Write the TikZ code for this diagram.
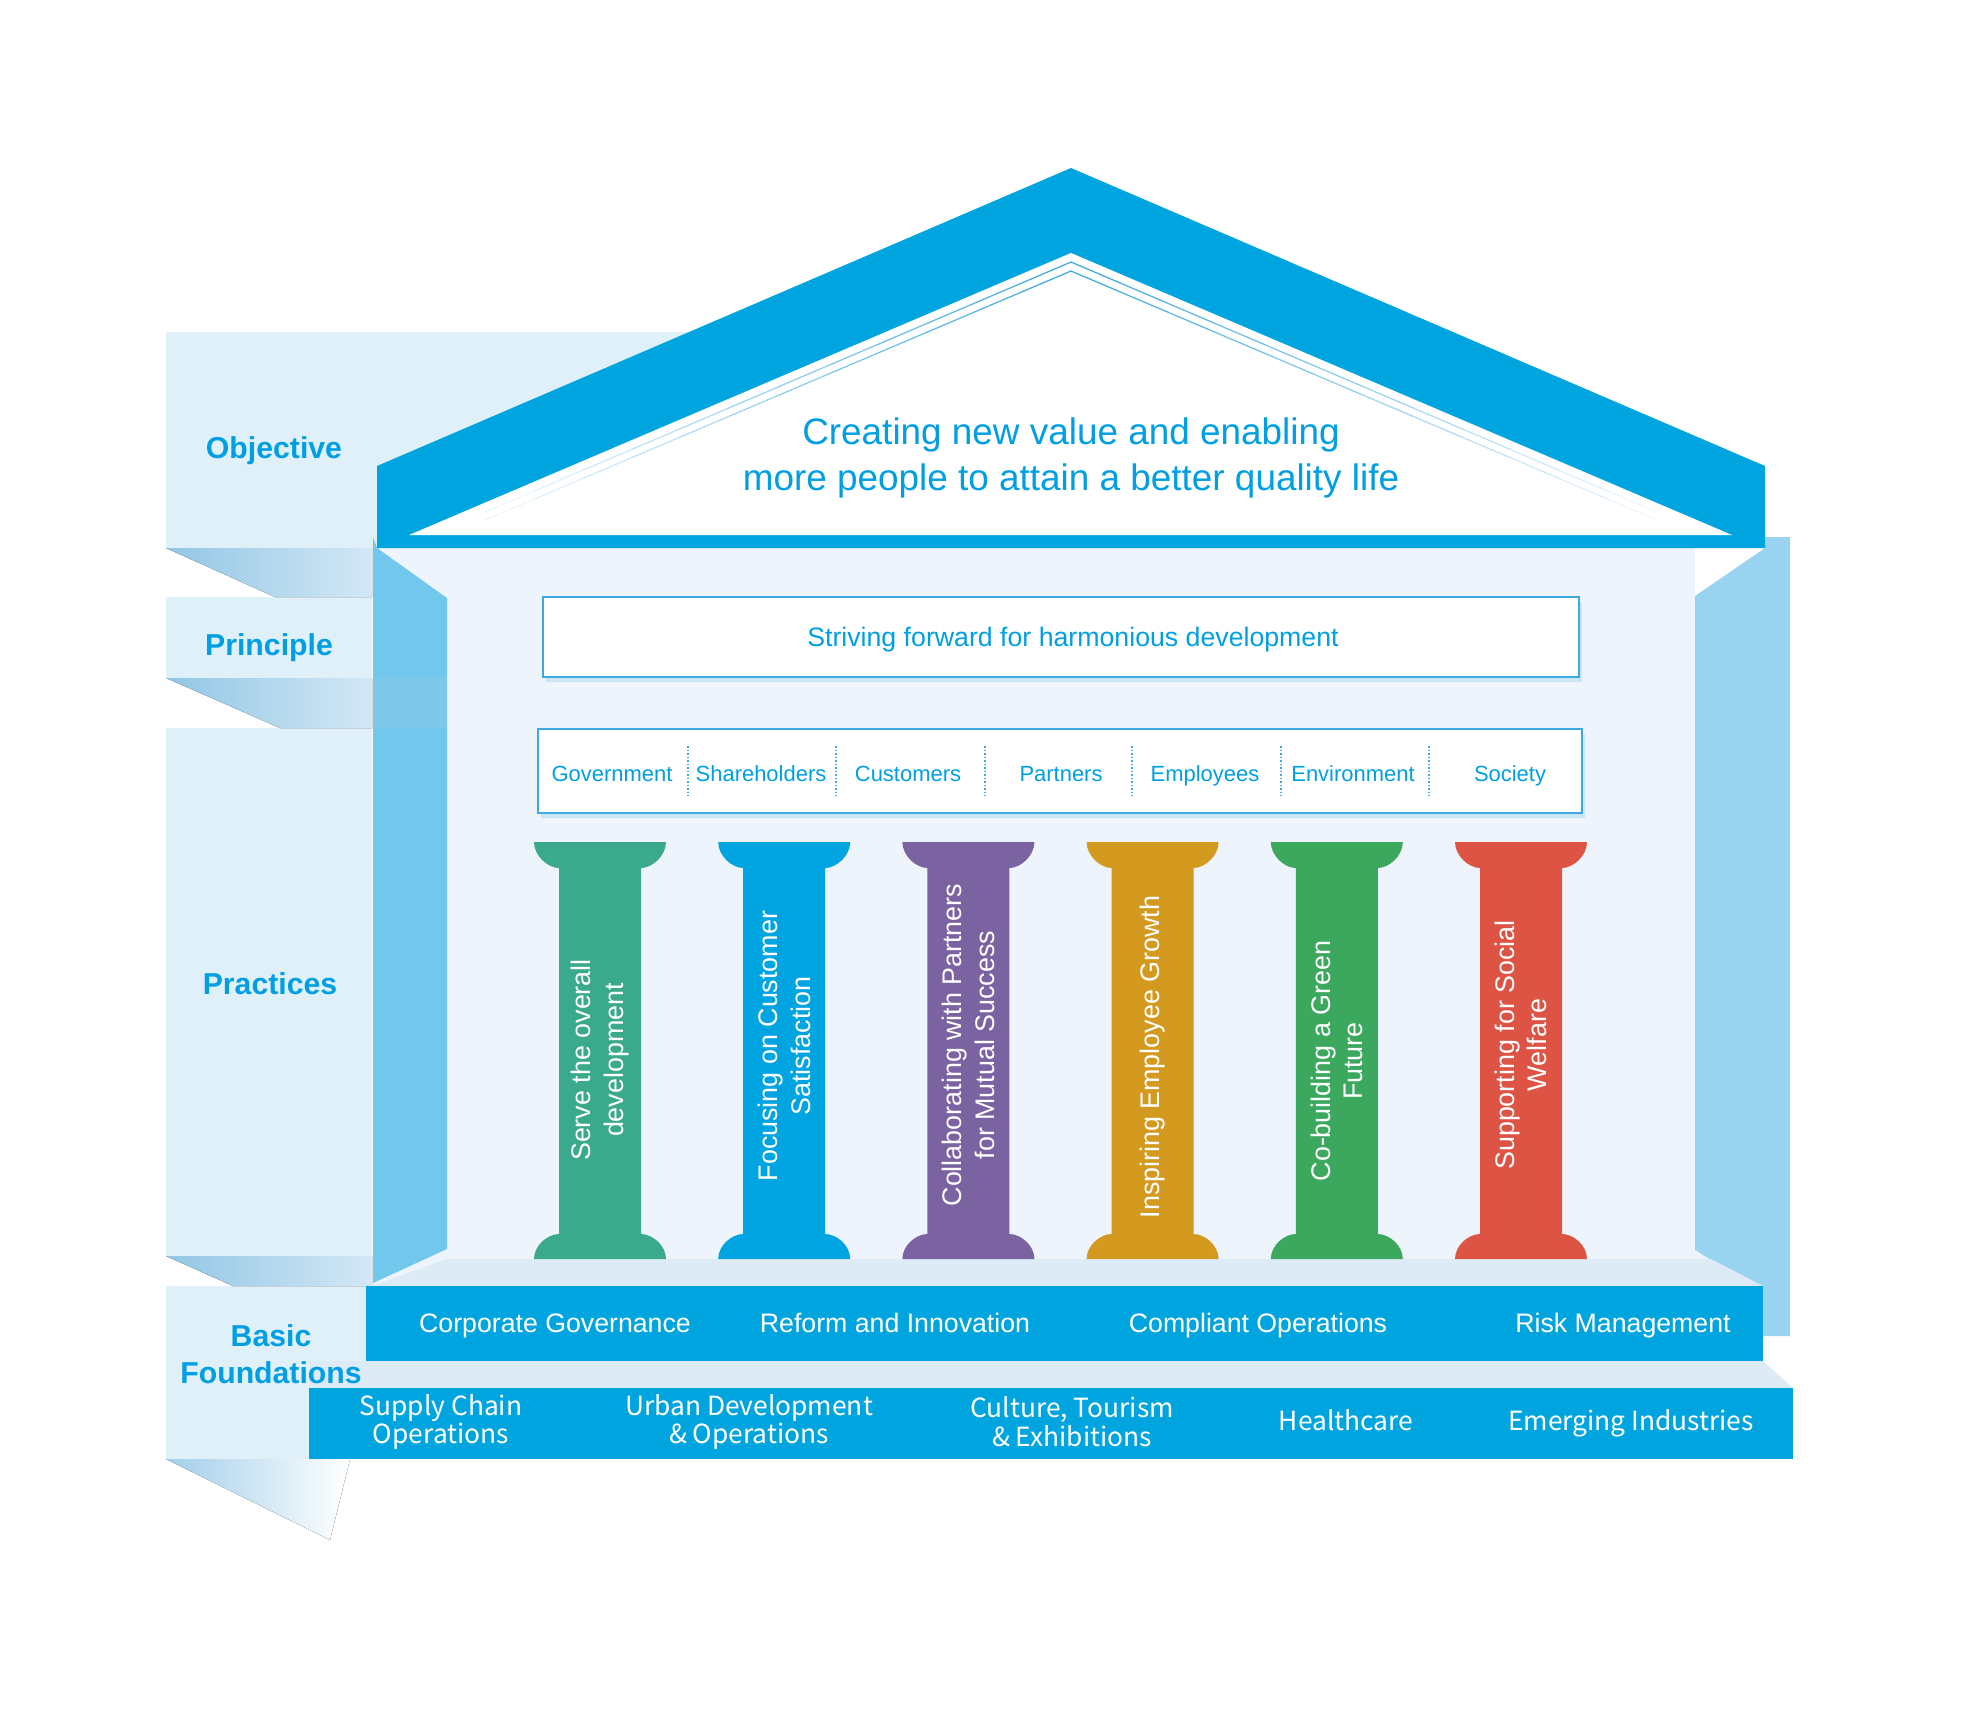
\documentclass[tikz,border=0pt]{standalone}
\usepackage{fontspec}
\setmainfont{Liberation Sans}
\newfontfamily\srcfont{Noto Sans CJK SC}
\usetikzlibrary{calc,shadows}
\definecolor{mainblue}{HTML}{00A5E0}
\definecolor{textblue}{HTML}{009FE3}
\definecolor{panel}{HTML}{E0F0F8}
\definecolor{bodybg}{HTML}{EEF4FB}
\definecolor{lstrip}{HTML}{72C8EC}
\definecolor{rstrip}{HTML}{98D3F0}
\definecolor{ledgebg}{HTML}{DCEBF5}
\definecolor{foldA}{HTML}{92C6E6}
\definecolor{foldB}{HTML}{D3E8F5}
\definecolor{boxline}{HTML}{3FA9DF}
\definecolor{pilA}{HTML}{3BAA8C}
\definecolor{pilB}{HTML}{00A4E0}
\definecolor{pilC}{HTML}{7B62A0}
\definecolor{pilD}{HTML}{D4991F}
\definecolor{pilE}{HTML}{3BA85E}
\definecolor{pilF}{HTML}{DE5444}
\tikzset{
  heading/.style   = { text=textblue, align=center, font=\bfseries\fontsize{17.2}{20.8}\selectfont },
  rooftext/.style  = { text=textblue, align=center, font=\fontsize{21}{25.9}\selectfont },
  stakeword/.style = { text=textblue, anchor=base, font=\fontsize{12.5}{15}\selectfont },
  sepline/.style   = { boxline, densely dotted, line width=1pt },
  roofline/.style  = { boxline, line width=0.7pt },
  whitebox/.style  = { draw=boxline, line width=1pt, fill=white, inner sep=0pt,
                       drop shadow={shadow xshift=1.5pt, shadow yshift=-3pt, opacity=.2, fill=boxline} },
  pillartext/.style = { white, rotate=90, align=center, font=\fontsize{15.3}{18.5}\selectfont },
  bandtext/.style  = { white, anchor=base, font=\fontsize{15.2}{18}\selectfont },
  bandtextb/.style = { white, align=center, font=\srcfont\fontsize{15}{16.4}\selectfont },
  fold/.style      = { left color=foldA, right color=foldB },
}

\begin{document}
\begin{tikzpicture}[x=0.02cm, y=-0.02cm]
  \fill[white] (0,0) rectangle (1988,1712);
  \useasboundingbox (0,0) rectangle (1988,1712);
  % label panels on the left
  \fill[panel] (166,332) rectangle (700,548);
  \fill[panel] (166,597) rectangle (372,678);
  \fill[panel] (166,728) rectangle (372,1256);
  \fill[panel] (166,1286) rectangle (420,1459);
  % folds between the panels
  \fill[fold] (166,548) -- (372,548) -- (372,597) -- (275,597) -- cycle;
  \fill[fold] (166,678) -- (372,678) -- (372,728) -- (280,728) -- cycle;
  \fill[fold] (166,1256) -- (372,1256) -- (372,1286) -- (233,1286) -- cycle;
  \fill[left color=foldA!85, right color=white] (166,1459) -- (350,1459) -- (330,1540) -- cycle;
  % body of the house
  \fill[bodybg] (373,548) rectangle (1695,1286);
  \fill[lstrip] (373,537) -- (377,548) -- (447,598) -- (447,1249) -- (373,1283) -- cycle;
  \fill[foldA, opacity=.35] (373,678) rectangle (447,728);
  \fill[rstrip] (1695,596) -- (1765,548) -- (1765,537) -- (1790,537) -- (1790,1336)
    -- (1695,1336) -- cycle;
  \fill[bodybg] (1695,1250) -- (1709,1259) -- (1695,1259) -- cycle;
  % ledges and foundation bands
  \fill[ledgebg] (372,1286) -- (447,1259) -- (1711,1259) -- (1763,1286) -- cycle;
  \fill[ledgebg] (309,1361) -- (1763,1361) -- (1793,1388) -- (309,1388) -- cycle;
  \fill[mainblue] (366,1286) rectangle (1763,1361);
  \fill[mainblue] (309,1388) rectangle (1793,1459);
  % roof
  \fill[mainblue] (377,548) -- (377,466) -- (1071,168) -- (1765,466) -- (1765,548) -- cycle;
  \fill[white] (409,535) -- (1071,253) -- (1732,535) -- cycle;
  \coordinate (apexA) at (1071,262);
  \coordinate (apexB) at (1071,271);
  \coordinate (endAL) at (485,512);
  \coordinate (endAR) at (1657,512);
  \coordinate (endBL) at (485,520);
  \coordinate (endBR) at (1657,520);
  \foreach \a/\e in {apexA/endAL, apexA/endAR, apexB/endBL, apexB/endBR}{
    \foreach \k in {0,...,11}{
      \pgfmathsetmacro{\op}{1-\k/12}
      \draw[roofline, opacity=\op] ($(\a)!{\k/12}!(\e)$) -- ($(\a)!{(\k+1)/12}!(\e)$);
    }
  }
  \node[rooftext] (aim) at (1071,458) {Creating new value and enabling\\more people to attain a better quality life};
  % headings
  \node[heading] (objective) at (274,451) {Objective};
  \node[heading] (principle) at (269,648) {Principle};
  \node[heading] (practices) at (270,984) {Practices};
  \node[heading] (basic) at (271,1354) {Basic\\Foundations};
  % principle and stakeholder boxes
  \node[whitebox, minimum width=20.72cm, minimum height=1.6cm] (strivebox) at (1061,637) {};
  \node[text=textblue, font=\fontsize{15.2}{18}\selectfont] (striving) at (1073,640)
        {Striving forward for harmonious development};
  \node[whitebox, minimum width=20.88cm, minimum height=1.68cm] (stakebox) at (1060,771) {};
  \foreach \sx in {688,836,985,1132,1281,1429}
    \draw[sepline] (\sx,746) -- (\sx,796);
  \node[stakeword] (government)   at (612,781)  {Government};
  \node[stakeword] (shareholders) at (761,781)  {Shareholders};
  \node[stakeword] (customers)    at (908,781)  {Customers};
  \node[stakeword] (partners)     at (1061,781) {Partners};
  \node[stakeword] (employees)    at (1205,781) {Employees};
  \node[stakeword] (environment)  at (1353,781) {Environment};
  \node[stakeword] (society)      at (1510,781) {Society};
  % pillars
  \foreach \i/\pcol/\py/\ptext in {0/pilA/1060/{Serve the overall\\development},
      1/pilB/1046/{Focusing on Customer\\Satisfaction},
      2/pilC/1045/{Collaborating with Partners\\for Mutual Success},
      3/pilD/1057/{Inspiring Employee Growth},
      4/pilE/1061/{Co-building a Green\\Future},
      5/pilF/1045/{Supporting for Social\\Welfare}}{
    \pgfmathsetmacro{\px}{534+184.2*\i}
    \fill[\pcol] (\px,842) -- ({\px+132},842)
      .. controls ({\px+132},856) and ({\px+118},868) .. ({\px+107},868)
      -- ({\px+107},1234)
      .. controls ({\px+118},1234) and ({\px+132},1245) .. ({\px+132},1259)
      -- (\px,1259)
      .. controls (\px,1245) and ({\px+14},1234) .. ({\px+25},1234)
      -- ({\px+25},868)
      .. controls ({\px+14},868) and (\px,856) .. (\px,842) -- cycle;
    \node[pillartext] (pillar\i) at ({\px+66},\py) {\ptext};
  }
  % foundation texts
  \node[bandtext] (governance) at (555,1332)  {Corporate Governance};
  \node[bandtext] (reform)     at (895,1332)  {Reform and Innovation};
  \node[bandtext] (compliant)  at (1258,1332) {Compliant Operations};
  \node[bandtext] (risk)       at (1623,1332) {Risk Management};
  \node[bandtextb] (supply)    at (441,1422)  {Supply Chain\\Operations};
  \node[bandtextb] (urban)     at (749,1422)  {Urban Development\\\& Operations};
  \node[bandtextb] (culture)   at (1072,1422) {Culture, Tourism\\\& Exhibitions};
  \node[bandtextb, anchor=base] (health)   at (1346,1430) {Healthcare};
  \node[bandtextb, anchor=base] (emerging) at (1631,1430) {Emerging Industries};
\end{tikzpicture}
\end{document}
